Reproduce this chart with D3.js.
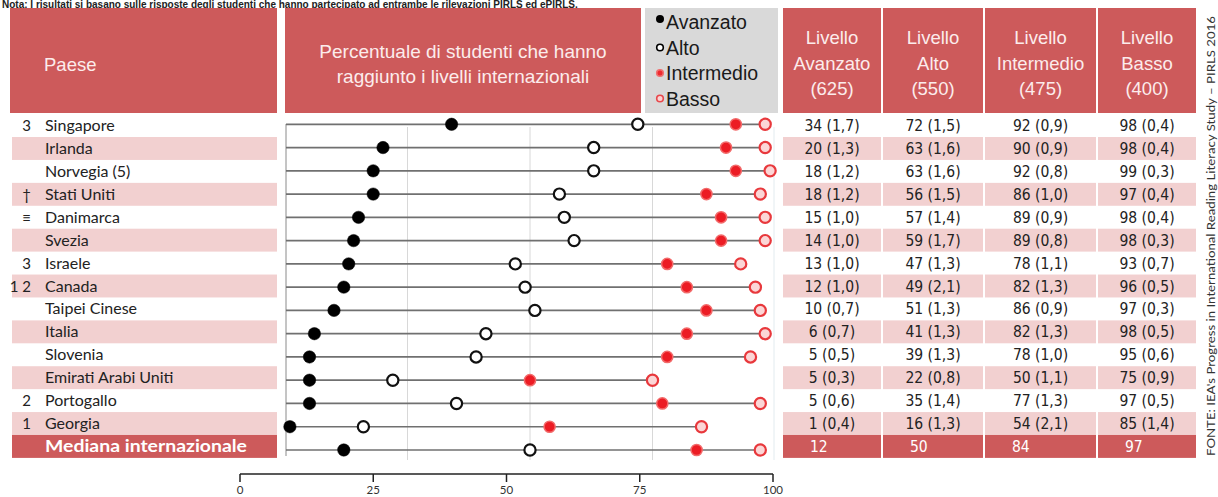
<!DOCTYPE html>
<html>
<head>
<meta charset="utf-8">
<script src="https://cdn.jsdelivr.net/npm/d3@7"></script>
<style>
  body { margin: 0; background: #fff; }
  svg { display: block; }
</style>
</head>
<body>
<svg id="chart"></svg>
<script>
const width = 1218;
const height = 497;

// dati
const countries = ["Singapore", "Irlanda", "Norvegia (5)", "Stati Uniti", "Danimarca", "Svezia", "Israele",
    "Canada", "Taipei Cinese", "Italia", "Slovenia", "Emirati Arabi Uniti", "Portogallo", "Georgia"];
const prefixes = ["3", "", "", "†", "≡", "", "3", "1 2", "", "", "", "", "2", "1"];
const avanzato = [34, 20, 18, 18, 15, 14, 13, 12, 10, 6, 5, 5, 5, 1];
const avanzatoSE = ["1,7", "1,3", "1,2", "1,2", "1,0", "1,0", "1,0", "1,0", "0,7", "0,7", "0,5", "0,3", "0,6", "0,4"];
const alto = [72, 63, 63, 56, 57, 59, 47, 49, 51, 41, 39, 22, 35, 16];
const altoSE = ["1,5", "1,6", "1,6", "1,5", "1,4", "1,7", "1,3", "2,1", "1,3", "1,3", "1,3", "0,8", "1,4", "1,3"];
const intermedio = [92, 90, 92, 86, 89, 89, 78, 82, 86, 82, 78, 50, 77, 54];
const intermedioSE = ["0,9", "0,9", "0,8", "1,0", "0,9", "0,8", "1,1", "1,3", "0,9", "1,3", "1,0", "1,1", "1,3", "2,1"];
const basso = [98, 98, 99, 97, 98, 98, 93, 96, 97, 98, 95, 75, 97, 85];
const bassoSE = ["0,4", "0,4", "0,3", "0,4", "0,4", "0,3", "0,7", "0,5", "0,3", "0,5", "0,6", "0,9", "0,5", "1,4"];
const medianLabel = "Mediana internazionale";
const median = [12, 50, 84, 97];

const levels = ["Avanzato", "Alto", "Intermedio", "Basso"];
const levelScores = ["(625)", "(550)", "(475)", "(400)"];
const axisTicks = [0, 25, 50, 75, 100];
const gridTicks = [25, 50, 75];

const noteText = "Nota: I risultati si basano sulle risposte degli studenti che hanno partecipato ad entrambe le rilevazioni PIRLS ed ePIRLS.";
const sourceText = "FONTE: IEA's Progress in International Reading Literacy Study – PIRLS 2016";

const red = "#cd5a5b";
const pink = "#f2d0d0";
const headText = "#fcecec";
const labelFont = "Lato, 'Open Sans', sans-serif";
const numFont = "'Liberation Sans Narrow', 'DejaVu Sans Condensed', sans-serif";
const headFont = "'Liberation Sans', Arial, sans-serif";

// righe: paesi + mediana
const rows = countries.map((c, i) => ({
    name: c, prefix: prefixes[i],
    values: [avanzato[i], alto[i], intermedio[i], basso[i]],
    se: [avanzatoSE[i], altoSE[i], intermedioSE[i], bassoSE[i]],
    median: false
}));
rows.push({name: medianLabel, prefix: "", values: median, se: null, median: true});
const names = rows.map(d => d.name);

const svg = d3.select("#chart")
    .attr("width", width)
    .attr("height", height);

const x = d3.scaleLinear().domain([0, 100]).range([285, 775]);
const xAxisScale = d3.scaleLinear().domain([0, 100]).range([240, 773]);
const yDot = d3.scalePoint().domain(names).range([124.3, 450]);
const yBand = d3.scaleBand().domain(names).range([114.1, 457.9]);

// colonne della tabella
const cols = [[783, 881], [883, 983], [985, 1096], [1098, 1196]];

// nota in alto (tagliata dal bordo)
svg.append("text")
    .attr("x", 2).attr("y", 7.5)
    .attr("font-family", headFont).attr("font-size", 10).attr("font-weight", "bold")
    .attr("fill", "#222")
    .text(noteText);

// intestazioni
function drawHeaders() {
    const g = svg.append("g");
    g.append("rect").attr("x", 10).attr("y", 8).attr("width", 267).attr("height", 105).attr("fill", red);
    g.append("text").attr("x", 44).attr("y", 71)
        .attr("font-family", headFont).attr("font-size", 18.5).attr("fill", headText).text("Paese");

    g.append("rect").attr("x", 285).attr("y", 8).attr("width", 356).attr("height", 105).attr("fill", red);
    g.append("text").attr("x", 463).attr("y", 58).attr("text-anchor", "middle")
        .attr("font-family", headFont).attr("font-size", 19).attr("fill", headText)
        .text("Percentuale di studenti che hanno");
    g.append("text").attr("x", 463).attr("y", 83).attr("text-anchor", "middle")
        .attr("font-family", headFont).attr("font-size", 19).attr("fill", headText)
        .text("raggiunto i livelli internazionali");

    g.selectAll(".lvl")
        .data(levels)
        .join("rect")
        .attr("class", "lvl")
        .attr("x", (d, i) => cols[i][0])
        .attr("y", 8)
        .attr("width", (d, i) => cols[i][1] - cols[i][0])
        .attr("height", 105)
        .attr("fill", red);
    levels.forEach((lv, i) => {
        const cx = (cols[i][0] + cols[i][1]) / 2;
        ["Livello", lv, levelScores[i]].forEach((t, j) => {
            g.append("text").attr("x", cx).attr("y", 44 + j * 25.5).attr("text-anchor", "middle")
                .attr("font-family", headFont).attr("font-size", 18.5).attr("fill", headText).text(t);
        });
    });
}

// legenda
function drawLegend() {
    const g = svg.append("g");
    g.append("rect").attr("x", 645).attr("y", 8).attr("width", 133).attr("height", 105).attr("fill", "#d9d9d9");
    const items = g.selectAll("g")
        .data(levels)
        .join("g")
        .attr("transform", (d, i) => `translate(660,${22 + i * 25.5})`);
    items.append("circle")
        .attr("cx", 0).attr("cy", (d, i) => i === 0 ? -3 : 0)
        .attr("r", (d, i) => i === 0 ? 4 : 3.3)
        .attr("fill", (d, i) => ["#000", "#fff", "#ee2a2f", "#fbd3d3"][i])
        .attr("stroke", (d, i) => ["none", "#000", "#f07070", "#e8484c"][i])
        .attr("stroke-width", 1.6);
    items.append("text")
        .attr("x", 6).attr("y", 7)
        .attr("font-family", headFont).attr("font-size", 19.5).attr("fill", "#1a1a1a")
        .text(d => d);
}

// colonna paesi e tabella
function drawTable() {
    const g = svg.append("g");
    const banded = rows.filter((d, i) => d.median || i % 2 === 1);
    g.selectAll(".band")
        .data(banded)
        .join("rect")
        .attr("x", 12).attr("width", 265)
        .attr("y", d => yBand(d.name))
        .attr("height", yBand.bandwidth())
        .attr("fill", d => d.median ? red : pink);
    cols.forEach((c, ci) => {
        g.selectAll(".band" + ci)
            .data(banded)
            .join("rect")
            .attr("x", c[0]).attr("width", c[1] - c[0])
            .attr("y", d => yBand(d.name))
            .attr("height", yBand.bandwidth())
            .attr("fill", d => d.median ? red : pink);
    });

    g.selectAll(".prefix")
        .data(rows)
        .join("text")
        .attr("x", 31)
        .attr("y", d => yBand(d.name) + yBand.bandwidth() / 2 + 5.5)
        .attr("text-anchor", "end")
        .attr("font-family", labelFont).attr("font-size", 15).attr("fill", "#222")
        .text(d => d.prefix);

    g.selectAll(".name")
        .data(rows)
        .join("text")
        .attr("x", 45)
        .attr("y", d => yBand(d.name) + yBand.bandwidth() / 2 + 5.5)
        .attr("font-family", labelFont)
        .attr("font-size", d => d.median ? 17 : 16)
        .attr("font-weight", d => d.median ? "bold" : "normal")
        .attr("fill", d => d.median ? "#fff" : "#222")
        .attr("textLength", d => d.median ? 202 : null)
        .attr("lengthAdjust", "spacingAndGlyphs")
        .text(d => d.name);

    cols.forEach((c, ci) => {
        g.selectAll(".val" + ci)
            .data(rows)
            .join("text")
            .attr("x", d => d.median ? c[0] + 27 : (c[0] + c[1]) / 2)
            .attr("y", d => yBand(d.name) + yBand.bandwidth() / 2 + 5.5)
            .attr("text-anchor", d => d.median ? "start" : "middle")
            .attr("font-family", numFont).attr("font-size", 15.5)
            .attr("fill", d => d.median ? "#fff" : "#222")
            .text(d => d.median ? d.values[ci] : `${d.values[ci]} (${d.se[ci]})`);
    });
}

// grafico a punti
function drawDots() {
    const g = svg.append("g");
    g.selectAll(".grid")
        .data(gridTicks)
        .join("line")
        .attr("x1", d => x(d)).attr("x2", d => x(d))
        .attr("y1", 127).attr("y2", 460)
        .attr("stroke", "#d8d8d8").attr("stroke-width", 1);
    g.append("line")
        .attr("x1", 286).attr("x2", 286).attr("y1", 124).attr("y2", 456)
        .attr("stroke", "#8a8a8a").attr("stroke-width", 1);
    g.append("line")
        .attr("x1", 774).attr("x2", 774).attr("y1", 127).attr("y2", 460)
        .attr("stroke", "#e2ebef").attr("stroke-width", 1);

    g.selectAll(".row")
        .data(rows)
        .join("line")
        .attr("x1", x(0) + 1).attr("x2", d => x(d.values[3]))
        .attr("y1", d => yDot(d.name)).attr("y2", d => yDot(d.name))
        .attr("stroke", "#707070").attr("stroke-width", 1.7);

    const styles = [
        {fill: "#000", stroke: "#000", sw: 0.5},
        {fill: "#fff", stroke: "#111", sw: 2.2},
        {fill: "#ec1c24", stroke: "#f26a6a", sw: 1.5},
        {fill: "#fbd6d6", stroke: "#e8383c", sw: 2.2}
    ];
    levels.forEach((lv, li) => {
        g.selectAll(".dot" + li)
            .data(rows)
            .join("circle")
            .attr("cx", d => x(d.values[li]))
            .attr("cy", d => yDot(d.name))
            .attr("r", li === 0 ? 6.2 : 5.6)
            .attr("fill", styles[li].fill)
            .attr("stroke", styles[li].stroke)
            .attr("stroke-width", styles[li].sw);
    });

    // asse in basso
    const axis = svg.append("g").attr("transform", "translate(0,474)");
    axis.append("line")
        .attr("x1", xAxisScale(0)).attr("x2", xAxisScale(100))
        .attr("stroke", "#222").attr("stroke-width", 1.5);
    axis.selectAll(".tick")
        .data(axisTicks)
        .join("line")
        .attr("x1", d => xAxisScale(d)).attr("x2", d => xAxisScale(d))
        .attr("y1", 0).attr("y2", 8)
        .attr("stroke", "#222").attr("stroke-width", 1.5);
    axis.selectAll(".lab")
        .data(axisTicks)
        .join("text")
        .attr("x", d => xAxisScale(d))
        .attr("y", 20)
        .attr("text-anchor", "middle")
        .attr("font-family", labelFont).attr("font-size", 11.5).attr("fill", "#333")
        .text(d => d);
}

// fonte verticale
svg.append("text")
    .attr("transform", "translate(1215,456) rotate(-90)")
    .attr("font-family", labelFont).attr("font-size", 12).attr("fill", "#333")
    .attr("textLength", 440)
    .attr("lengthAdjust", "spacingAndGlyphs")
    .text(sourceText);

drawHeaders();
drawLegend();
drawTable();
drawDots();
</script>
</body>
</html>
